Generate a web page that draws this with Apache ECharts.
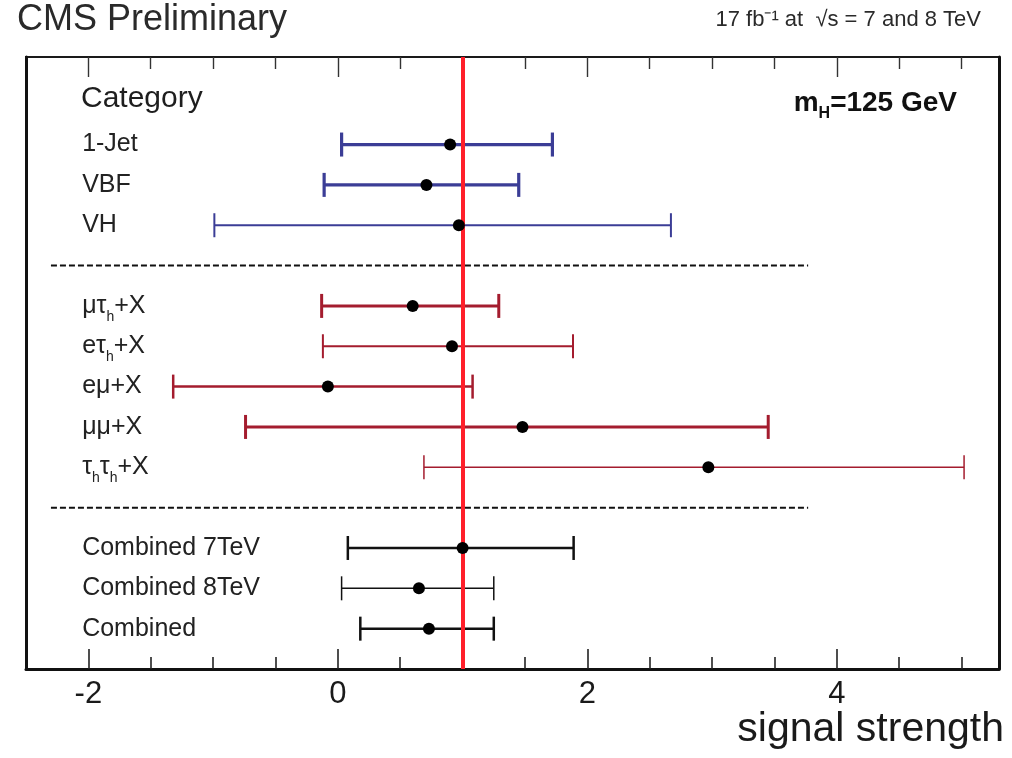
<!DOCTYPE html>
<html><head><meta charset="utf-8">
<script src="https://cdn.jsdelivr.net/npm/echarts@6/dist/echarts.min.js"></script>
<style>html,body{margin:0;padding:0;background:#fff}#c{width:1012px;height:758px}</style>
</head><body><div id="c"></div>
<script>
// ---------- data ----------
const categories = ['1-Jet', 'VBF', 'VH', 'μτ_h+X', 'eτ_h+X', 'eμ+X', 'μμ+X', 'τ_hτ_h+X', 'Combined 7TeV', 'Combined 8TeV', 'Combined'];
const groups     = ['prod', 'prod', 'prod', 'decay', 'decay', 'decay', 'decay', 'decay', 'comb', 'comb', 'comb'];
const central    = [0.90, 0.71, 0.97, 0.60, 0.915, -0.08, 1.48, 2.97, 1.00, 0.65, 0.73];
const lowEdge    = [0.03, -0.11, -0.99, -0.13, -0.12, -1.32, -0.74, 0.69, 0.08, 0.03, 0.18];
const highEdge   = [1.72, 1.45, 2.67, 1.29, 1.885, 1.08, 3.45, 5.02, 1.89, 1.25, 1.25];
const smValue = 1;
const xMajorTicks = [-2, 0, 2, 4];
const xMinorTicks = [-1.5, -1, -0.5, 0.5, 1, 1.5, 2.5, 3, 3.5, 4.5, 5];
const xRange = [-2.5, 5.3];
const separatorRange = [-2.3, 3.77];

// ---------- styles ----------
const groupColor = { prod: '#3b3d96', decay: '#a41c2e', comb: '#111111' };
const barLineWidth = [3.2, 3.2, 2, 3, 2, 2.5, 3, 1.5, 2.5, 1.5, 2.5];
const FONT = '"Liberation Sans", Arial, Helvetica, sans-serif';

// rows (derived from order, one blank row between groups)
const rows = [];
const separators = [];
let r = 13;
categories.forEach((c, i) => {
  if (i > 0 && groups[i] !== groups[i - 1]) { separators.push(r); r--; }
  rows.push(r); r--;
});
const labelX = -2.05;

function richLabel(s) {
  let out = '', buf = '';
  for (let i = 0; i < s.length; i++) {
    if (s[i] === '_') {
      if (buf) { out += '{n|' + buf + '}'; buf = ''; }
      out += '{s|' + s[i + 1] + '}';
      i++;
    } else buf += s[i];
  }
  if (buf) out += '{n|' + buf + '}';
  return out;
}

const chart = echarts.init(document.getElementById('c'), null, { renderer: 'canvas' });

const axisCommon = { type: 'value', min: xRange[0], max: xRange[1], splitLine: { show: false } };

const option = {
  animation: false,
  backgroundColor: '#ffffff',
  grid: { left: 26, right: 13, top: 57, bottom: 89, show: true, borderColor: '#1a1a1a', borderWidth: 2 },
  xAxis: [
    Object.assign({}, axisCommon, {
      position: 'bottom',
      axisLine: { show: true, onZero: false, lineStyle: { color: '#111', width: 3 } },
      axisTick: { show: true, inside: true, length: 20, customValues: xMajorTicks, lineStyle: { color: '#222', width: 1.6 } },
      axisLabel: { show: true, customValues: xMajorTicks, fontSize: 31, color: '#1a1a1a', fontFamily: FONT, margin: 10 }
    }),
    Object.assign({}, axisCommon, {
      position: 'bottom',
      axisLine: { show: false, onZero: false },
      axisTick: { show: true, inside: true, length: 12, customValues: xMinorTicks, lineStyle: { color: '#222', width: 1.6 } },
      axisLabel: { show: false }
    }),
    Object.assign({}, axisCommon, {
      position: 'top',
      axisLine: { show: false, onZero: false },
      axisTick: { show: true, inside: true, length: 20, customValues: xMajorTicks, lineStyle: { color: '#333', width: 1.4 } },
      axisLabel: { show: false }
    }),
    Object.assign({}, axisCommon, {
      position: 'top',
      axisLine: { show: false, onZero: false },
      axisTick: { show: true, inside: true, length: 12, customValues: xMinorTicks, lineStyle: { color: '#333', width: 1.4 } },
      axisLabel: { show: false }
    })
  ],
  yAxis: [
    { type: 'value', min: 0, max: 15.17, position: 'left', splitLine: { show: false },
      axisLine: { show: true, onZero: false, lineStyle: { color: '#111', width: 3 } }, axisTick: { show: false }, axisLabel: { show: false } },
    { type: 'value', min: 0, max: 15.17, position: 'right', splitLine: { show: false },
      axisLine: { show: true, onZero: false, lineStyle: { color: '#111', width: 3 } }, axisTick: { show: false }, axisLabel: { show: false } }
  ],
  graphic: [
    { type: 'text', left: 17, top: 2, style: { text: 'CMS Preliminary', font: '36px ' + FONT, fill: '#2a2a2a' } },
    { type: 'text', right: 31, top: 9, style: { text: '17 fb⁻¹ at  √s = 7 and 8 TeV', font: '22px ' + FONT, fill: '#2a2a2a' } },
    { type: 'text', left: 81, top: 84, style: { text: 'Category', font: '30px ' + FONT, fill: '#1e1e1e' } },
    { type: 'text', right: 55, top: 84, style: { text: '{m|m}{s|H}{m|=125 GeV}', rich: {
        m: { fontSize: 28, fontWeight: 'bold', fontFamily: FONT, fill: '#111', lineHeight: 30 },
        s: { fontSize: 16, fontWeight: 'bold', fontFamily: FONT, fill: '#111', lineHeight: 16, padding: [22, 0, 0, 0] } } } },
    { type: 'text', right: 8, top: 709, style: { text: 'signal strength', font: '41px ' + FONT, fill: '#1a1a1a' } }
  ],
  series: [
    ...separators.map(s => ({
      type: 'line', xAxisIndex: 0, yAxisIndex: 0, symbol: 'none', silent: true, z: 2,
      data: [[separatorRange[0], s], [separatorRange[1], s]],
      lineStyle: { color: '#111', width: 2, type: [6, 3] }
    })),
    {
      type: 'custom', xAxisIndex: 0, yAxisIndex: 0, z: 3,
      data: categories.map((c, i) => [lowEdge[i], rows[i], highEdge[i]]),
      encode: { x: [0, 2], y: 1 },
      renderItem: function (params, api) {
        const i = params.dataIndex;
        const p1 = api.coord([api.value(0), api.value(1)]);
        const p2 = api.coord([api.value(2), api.value(1)]);
        const col = groupColor[groups[i]];
        const w = barLineWidth[i];
        const ch = 12;
        const st = { stroke: col, lineWidth: w };
        return { type: 'group', children: [
          { type: 'line', shape: { x1: p1[0], y1: p1[1], x2: p2[0], y2: p2[1] }, style: st },
          { type: 'line', shape: { x1: p1[0], y1: p1[1] - ch, x2: p1[0], y2: p1[1] + ch }, style: st },
          { type: 'line', shape: { x1: p2[0], y1: p2[1] - ch, x2: p2[0], y2: p2[1] + ch }, style: st }
        ] };
      }
    },
    {
      type: 'line', xAxisIndex: 0, yAxisIndex: 0, data: [], z: 4,
      markLine: { silent: true, symbol: 'none', label: { show: false },
        lineStyle: { color: '#ff1f2a', width: 4, type: 'solid' },
        data: [{ xAxis: smValue }] }
    },
    {
      type: 'scatter', xAxisIndex: 0, yAxisIndex: 0, z: 5,
      symbol: 'circle', symbolSize: 12,
      itemStyle: { color: '#000', opacity: 1 },
      data: categories.map((c, i) => [central[i], rows[i]])
    },
    {
      type: 'custom', xAxisIndex: 0, yAxisIndex: 0, z: 6, silent: true,
      data: categories.map((c, i) => [labelX, rows[i]]),
      encode: { x: 0, y: 1 },
      renderItem: function (params, api) {
        const p = api.coord([api.value(0), api.value(1)]);
        return {
          type: 'text', x: p[0], y: p[1],
          style: {
            text: richLabel(categories[params.dataIndex]),
            align: 'left', verticalAlign: 'middle',
            rich: {
              n: { fontSize: 25, fontFamily: FONT, fill: '#222', lineHeight: 26 },
              s: { fontSize: 14, fontFamily: FONT, fill: '#222', lineHeight: 14, padding: [22, 0, 0, 0] }
            }
          }
        };
      }
    }
  ]
};
chart.setOption(option);
</script>
</body></html>
